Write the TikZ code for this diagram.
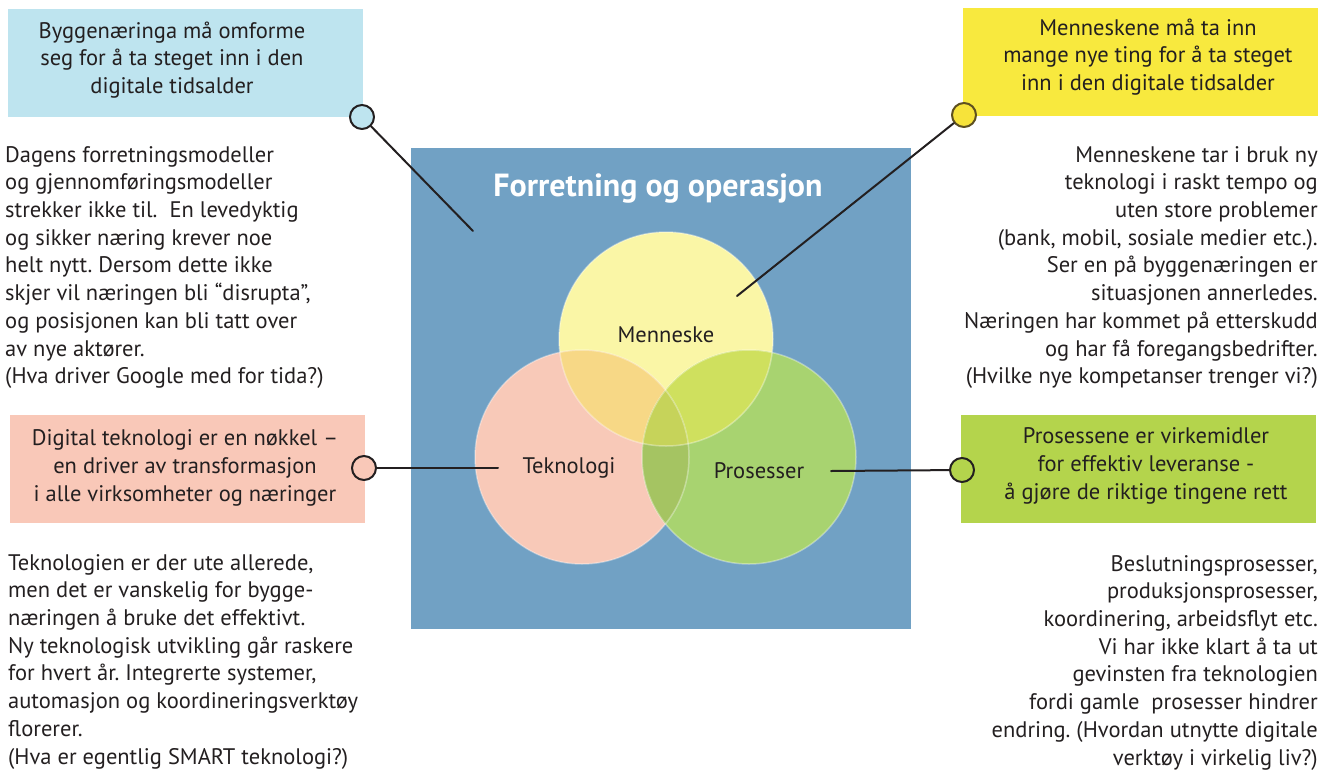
\documentclass[tikz,border=0pt]{standalone}
\usepackage{fontspec}
\setmainfont{PT Sans}
\usepackage{tikz}
\frenchspacing
\definecolor{ink}{HTML}{231F20}
\definecolor{bgblue}{HTML}{71A1C4}
\definecolor{boxblue}{HTML}{BEE4EF}
\definecolor{boxyellow}{HTML}{F8E93E}
\definecolor{boxpink}{HTML}{F9C8B8}
\definecolor{boxgreen}{HTML}{B4D44C}
\definecolor{cyellow}{HTML}{FAF6A6}
\definecolor{cpink}{HTML}{F8C9B8}
\definecolor{cgreen}{HTML}{A8D370}
\definecolor{cyp}{HTML}{F7D886}
\definecolor{cyg}{HTML}{CFE05E}
\definecolor{cpg}{HTML}{A5C462}
\definecolor{cypg}{HTML}{C6D35A}
\definecolor{dotyellow}{HTML}{F7E33A}
\definecolor{dotrim}{HTML}{5E5020}
\begin{document}
\begin{tikzpicture}[line cap=round,line join=round,x=1pt,y=-1pt,
  txt/.style={text=ink,inner sep=0pt,font={\fontsize{22.5}{27.7}\selectfont}},
  headbox/.style={inner sep=0pt,minimum width=355pt,minimum height=108pt},
  dot/.style={circle,draw=ink,line width=2pt,minimum size=24pt,inner sep=0pt},
  link/.style={draw=ink,line width=2pt},
  rim/.style={draw=white,draw opacity=0.35,line width=1.5pt}]
\useasboundingbox (0,0) rectangle (1331,769);
\fill[bgblue] (411,148) rectangle (911,629);
\node[text=white,inner sep=0pt,anchor=base,font={\fontsize{32}{36}\selectfont\bfseries}] (title) at (658,196) {Forretning og operasjon};
\coordinate (cM) at (666,339);
\coordinate (cT) at (582,457);
\coordinate (cP) at (749,457);
\fill[cyellow] (cM) circle (107);
\fill[cpink] (cT) circle (107);
\fill[cgreen] (cP) circle (107);
\begin{scope}
\clip (cM) circle (107);
\fill[cyp] (cT) circle (107);
\fill[cyg] (cP) circle (107);
\end{scope}
\begin{scope}
\clip (cT) circle (107);
\fill[cpg] (cP) circle (107);
\clip (cP) circle (107);
\fill[cypg] (cM) circle (107);
\end{scope}
\draw[rim] (cM) circle (107);
\draw[rim] (cT) circle (107);
\draw[rim] (cP) circle (107);
\node[txt,anchor=base] (menneske) at (666,342) {Menneske};
\node[txt,anchor=base] (teknologi) at (569,473) {Teknologi};
\node[txt,anchor=base] (prosesser) at (759,478) {Prosesser};
\node[headbox,fill=boxblue] (byggbox) at (185.5,63) {};
\node[headbox,fill=boxyellow] (mennbox) at (1140.5,61.5) {};
\node[headbox,fill=boxpink] (teknbox) at (187.5,469) {};
\node[headbox,fill=boxgreen] (prosbox) at (1138.5,469) {};
\node[txt,align=center] (byggtext) at (172,60) {Byggenæringa må omforme\\seg for å ta steget inn i den\\digitale tidsalder};
\node[txt,align=center] (menntext) at (1148,57) {Menneskene må ta inn\\mange nye ting for å ta steget\\inn i den digitale tidsalder};
\node[txt,align=center] (tekntext) at (185,468) {Digital teknologi er en nøkkel –\\en driver av transformasjon\\i alle virksomheter og næringer};
\node[txt,align=center] (prostext) at (1146,466) {Prosessene er virkemidler\\for effektiv leveranse -\\å gjøre de riktige tingene rett};
\coordinate (byggend) at (473,231);
\coordinate (mennend) at (737,296);
\coordinate (teknend) at (498,468);
\coordinate (prosend) at (831,471);
\node[dot,fill=boxblue] (byggdot) at (362,117) {};
\node[dot,fill=dotyellow,draw=dotrim] (menndot) at (964,115) {};
\node[dot,fill=boxpink] (tekndot) at (364,468) {};
\node[dot,fill=boxgreen] (prosdot) at (962,470) {};
\draw[link] (byggdot) -- (byggend);
\draw[link] (menndot) -- (mennend);
\draw[link] (tekndot) -- (teknend);
\draw[link] (prosdot) -- (prosend);
\node[txt,align=left,anchor=north west] (byggpara) at (5,146) {Dagens forretningsmodeller\\og gjennomføringsmodeller\\strekker ikke til.\ \ En levedyktig\\og sikker næring krever noe\\helt nytt. Dersom dette ikke\\skjer vil næringen bli “disrupta”,\\og posisjonen kan bli tatt over\\av nye aktører.\\(Hva driver Google med for tida?)};
\node[txt,align=right,anchor=north east] (mennpara) at (1318,146) {Menneskene tar i bruk ny\\teknologi i raskt tempo og\\uten store problemer\\(bank, mobil, sosiale medier etc.).\\Ser en på byggenæringen er\\situasjonen annerledes.\\Næringen har kommet på etterskudd\\og har få foregangsbedrifter.\\(Hvilke nye kompetanser trenger vi?)};
\node[txt,align=left,anchor=north west] (teknpara) at (8,554) {Teknologien er der ute allerede,\\men det er vanskelig for bygge-\\næringen å bruke det effektivt.\\Ny teknologisk utvikling går raskere\\for hvert år. Integrerte systemer,\\automasjon og koordineringsverktøy\\florerer.\\(Hva er egentlig SMART teknologi?)};
\node[txt,align=right,anchor=north east] (prospara) at (1318,555) {Beslutningsprosesser,\\produksjonsprosesser,\\koordinering, arbeidsflyt etc.\\Vi har ikke klart å ta ut\\gevinsten fra teknologien\\fordi gamle\ \ prosesser hindrer\\endring. (Hvordan utnytte digitale\\verktøy i virkelig liv?)};
\end{tikzpicture}
\end{document}
